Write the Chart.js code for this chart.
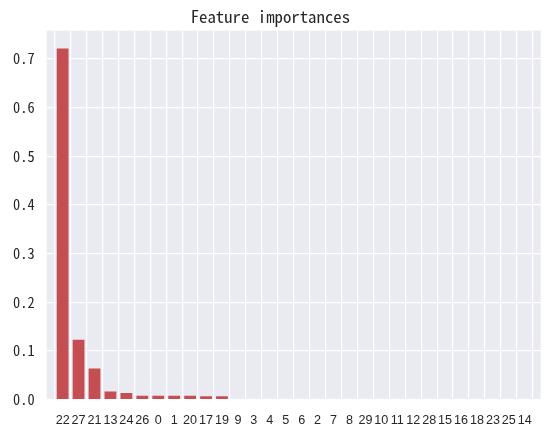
<!DOCTYPE html>
<html>
<head>
<meta charset="utf-8">
<script src="https://cdn.jsdelivr.net/npm/chart.js@4"></script>
<style>
  html, body { margin: 0; padding: 0; background: #ffffff; }
  #wrap { width: 552px; height: 435px; position: relative; }
</style>
</head>
<body>
<div id="wrap"><canvas id="c" width="552" height="435"></canvas></div>
<script>
const titleText = "Feature importances";
const featureLabels = ["22","27","21","13","24","26","0","1","20","17","19","9","3","4","5","6","2","7","8","29","10","11","12","28","15","16","18","23","25","14"];
const importances = [0.721, 0.123, 0.064, 0.017, 0.014, 0.008, 0.008, 0.008, 0.008, 0.007, 0.007, 0, 0, 0, 0, 0, 0, 0, 0, 0, 0, 0, 0, 0, 0, 0, 0, 0, 0, 0];
const yTickValues = [0, 0.1, 0.2, 0.3, 0.4, 0.5, 0.6, 0.7];

const barColor = "#C44E52";
const textColor = "#262626";
const monoFont = '"Noto Sans Mono CJK SC", "Liberation Mono", "DejaVu Sans Mono", monospace';
const sansFont = '"Liberation Sans", Arial, sans-serif';

const points = importances.map((v, i) => ({ x: i, y: v }));

const bgPlugin = {
  id: 'bgPlugin',
  beforeDraw(chart) {
    const { ctx, chartArea } = chart;
    ctx.save();
    ctx.fillStyle = "#EAEAF2";
    ctx.fillRect(chartArea.left, chartArea.top, chartArea.right - chartArea.left, chartArea.bottom - chartArea.top);
    ctx.restore();
  }
};

new Chart(document.getElementById('c'), {
  type: 'bar',
  data: {
    datasets: [{
      data: points,
      backgroundColor: barColor,
      borderWidth: 0,
      categoryPercentage: 1.0,
      barPercentage: 0.74
    }]
  },
  options: {
    responsive: false,
    animation: false,
    layout: { padding: { left: 0, right: 11.3, top: 0, bottom: 0 } },
    plugins: {
      legend: { display: false },
      tooltip: { enabled: false },
      title: {
        display: true,
        text: titleText,
        color: textColor,
        font: { family: monoFont, size: 16.8, weight: 'normal' },
        padding: { top: 6.5, bottom: 4 }
      }
    },
    scales: {
      x: {
        type: 'linear',
        min: -1,
        max: 30,
        offset: false,
        afterBuildTicks(scale) {
          scale.ticks = featureLabels.map((_, i) => ({ value: i }));
        },
        afterFit(scale) { scale.height = 35.3; },
        ticks: {
          autoSkip: false,
          maxRotation: 0,
          minRotation: 0,
          padding: 13,
          color: textColor,
          font: { family: sansFont, size: 12.6 },
          callback: (v) => featureLabels[v]
        },
        grid: { color: '#ffffff', lineWidth: 1.2, drawTicks: false },
        border: { display: false }
      },
      y: {
        type: 'linear',
        min: 0,
        max: 0.7577,
        afterBuildTicks(scale) {
          scale.ticks = yTickValues.map(v => ({ value: v }));
        },
        afterFit(scale) { scale.width = 46.7; },
        ticks: {
          padding: 12,
          color: textColor,
          font: { family: monoFont, size: 14.4 },
          callback: (v) => v.toFixed(1)
        },
        grid: { color: '#ffffff', lineWidth: 1.2, drawTicks: false },
        border: { display: false }
      }
    }
  },
  plugins: [bgPlugin]
});
</script>
</body>
</html>
